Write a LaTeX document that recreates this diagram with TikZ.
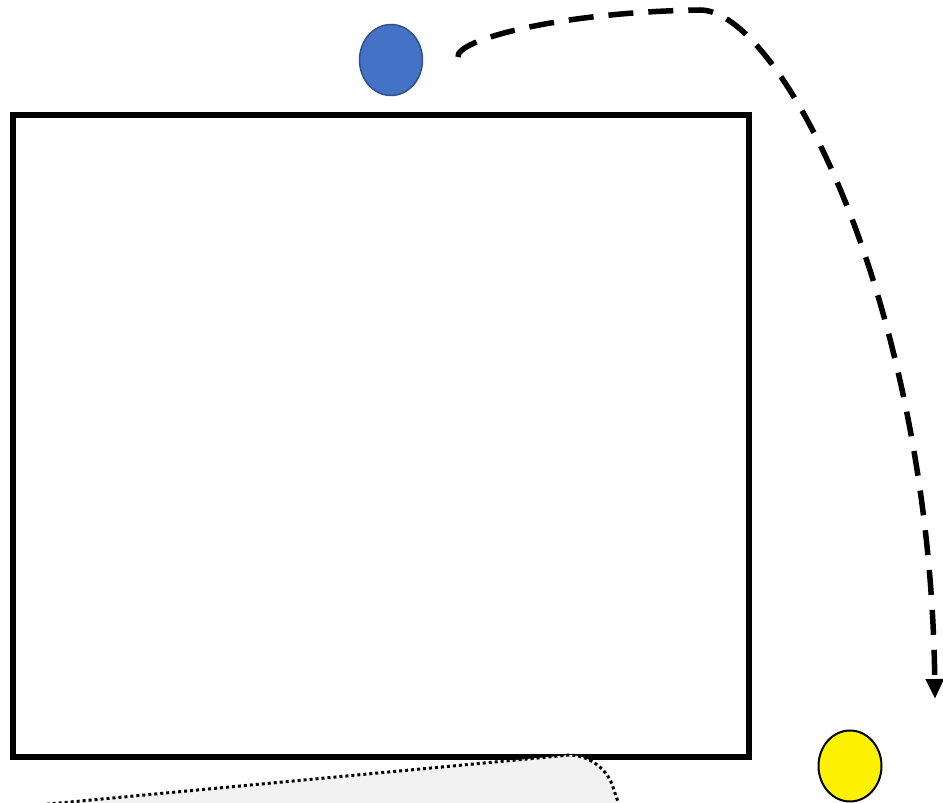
\documentclass[tikz,border=0pt]{standalone}
\usetikzlibrary{arrows.meta,shapes.geometric}
\definecolor{ballblue}{HTML}{4472C4}
\definecolor{ballblueedge}{HTML}{2F528F}
\definecolor{padgray}{HTML}{F2F2F2}
\tikzset{
  ball/.style={ellipse,inner sep=0pt,minimum width=1.26cm,minimum height=1.42cm},
  flight/.style={line width=0.11cm,dash pattern=on 0.5cm off 0.3cm,-{Triangle[length=0.4cm,width=0.34cm]}}
}
\begin{document}
\begin{tikzpicture}[x=0.02cm,y=-0.02cm]
        \useasboundingbox (0,0) rectangle (943,803);
        \clip (0,0) rectangle (943,803);
        % the box
        \node[draw,line width=0.12cm,inner sep=0pt,minimum width=14.72cm,minimum height=12.86cm] (box) at (381,436) {};
        % gray pad over the bottom edge of the box, runs off the page
        \filldraw[fill=padgray,draw=black,line width=0.06cm,dash pattern=on 0.06cm off 0.06cm,rounded corners=0.7cm]
            (0,808.6) -- (601,752) -- (631,840) -- (0,840) -- cycle;
        % the two balls
        \node[ball,fill=ballblue,draw=ballblueedge,line width=0.03cm] (blueball) at (391,60) {};
        \node[ball,fill=yellow,draw=black,line width=0.04cm] (yellowball) at (850,766) {};
        % path of the throw
        \coordinate (launch) at (458,57);
        \coordinate (apex) at (700,10);
        \coordinate (land) at (935,699);
        \draw[flight] (launch) .. controls (455,40) and (560,12) .. (apex)
            .. controls (780,10) and (930,300) .. (land);
    \end{tikzpicture}
\end{document}
